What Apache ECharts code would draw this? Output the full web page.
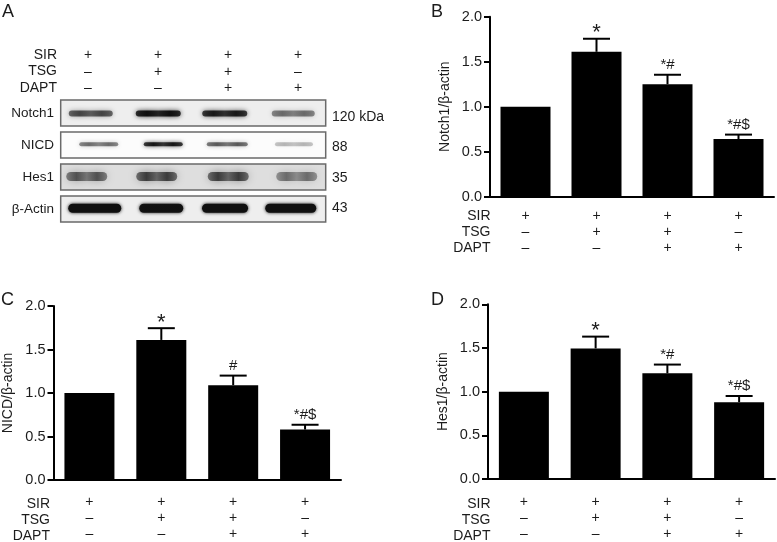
<!DOCTYPE html>
<html><head><meta charset="utf-8">
<style>html,body{margin:0;padding:0;background:#fff}#c{width:777px;height:542px;filter:blur(0.45px)}</style>
<script src="https://cdn.jsdelivr.net/npm/echarts@6/dist/echarts.min.js"></script>
</head><body><div id="c"></div>
<script>
// ---- data ----
const sir  = ['+','+','+','+'];
const tsg  = ['–','+','+','–'];
const dapt = ['–','–','+','+'];
const rowNames = ['SIR','TSG','DAPT'];
const yTicks = ['0.0','0.5','1.0','1.5','2.0'];

const notchMean = [1.0, 1.61, 1.25, 0.64];
const notchTop  = [null, 1.755, 1.355, 0.69];
const notchSig  = ['', '*', '*#', '*#$'];
const nicdMean  = [1.0, 1.61, 1.09, 0.58];
const nicdTop   = [null, 1.745, 1.2, 0.635];
const nicdSig   = ['', '*', '#', '*#$'];
const hesMean   = [1.0, 1.495, 1.21, 0.88];
const hesTop    = [null, 1.63, 1.31, 0.95];
const hesSig    = ['', '*', '*#', '*#$'];

const blotRows = ['Notch1','NICD','Hes1','β-Actin'];
const blotKda  = ['120 kDa','88','35','43'];
const notchBand = [0.68, 1, 0.92, 0.52];
const nicdBand  = [0.55, 0.95, 0.62, 0.28];
const hesBand   = [0.62, 0.72, 0.72, 0.5];
const actinBand = [1, 0.97, 1, 1];

// ---- styling ----
const FONT = '"Liberation Sans", Arial, sans-serif';
const INK = '#1c1c1c';
const AX = '#000';
const catNames = sir.map((s,i)=> s+'\n'+tsg[i]+'\n'+dapt[i]);
const kdaY = [117, 147, 178, 208];
const blotStyle = [
  {bands:notchBand, bg:'#eeeeee', h:6, blur:5, dy:0.5, dip:0.82, dx:[0,0,-1,0], w:[44,45,45,43]},
  {bands:nicdBand,  bg:'#fcfcfc', h:4, blur:4, dy:-0.7, dip:0.8, dx:[8,5,1.5,0.7], w:[39,39,41,38]},
  {bands:hesBand,   bg:'#dedede', h:9, blur:9, dy:-0.5, dip:0.7, dx:[-4,-1.5,2.5,3.5], w:[41,41,41,41]},
  {bands:actinBand, bg:'#eeeeee', h:9, blur:3.5, dy:-0.7, dip:1, dx:[4,3,-0.7,-2.5], w:[53,44,46,51]}
];

function blotFrames(params, api){
  const i = params.dataIndex, c = params.coordSys;
  const yc = api.coord([0, api.value(1)])[1];
  const h = api.size([0,1])[1] - 6;
  return {type:'rect', shape:{x:c.x+3.7, y:yc-h/2, width:c.width-5, height:h},
    style:{fill:blotStyle[i].bg, stroke:'#6a6a6a', lineWidth:1.5}};
}
function blotBands(params, api){
  const lane = api.value(0), row = api.value(1), dark = api.value(2);
  const s = blotStyle[row];
  const p = api.coord([lane,row]);
  const cx = p[0]+s.dx[lane], cy = p[1]+s.dy, w = s.w[lane], h = s.h;
  const a = Math.min(1, dark);
  const c1 = 'rgba(15,15,15,'+a+')';
  const c2 = 'rgba(15,15,15,'+(a*s.dip)+')';
  return {type:'rect', shape:{x:cx-w/2, y:cy-h/2, width:w, height:h, r:h/2},
    style:{fill:{type:'linear',x:0,y:0,x2:1,y2:0,colorStops:[
      {offset:0,color:c2},{offset:0.25,color:c1},{offset:0.5,color:c2},{offset:0.75,color:c1},{offset:1,color:c2}]},
      shadowBlur:s.blur, shadowColor:c2}};
}
function errorRender(sig){
  return function(params, api){
    const i = params.dataIndex;
    const x = api.value(0), m = api.value(1), t = api.value(2);
    const a = api.coord([x,m]), b = api.coord([x,isNaN(t)?m:t]);
    const kids = [];
    if(!isNaN(t)){
      kids.push({type:'line', shape:{x1:a[0],y1:a[1],x2:b[0],y2:b[1]}, style:{stroke:'#000',lineWidth:2}});
      kids.push({type:'line', shape:{x1:b[0]-13.5,y1:b[1],x2:b[0]+13.5,y2:b[1]}, style:{stroke:'#000',lineWidth:2}});
    }
    if(sig[i]){
      const single = sig[i]==='*';
      kids.push({type:'text', style:{text:sig[i], x:b[0], y:b[1]-(single?5.5:10), align:'center', verticalAlign:'middle',
        font:(single?'22px ':'15px ')+FONT, fill:INK}});
    }
    return {type:'group', children:kids};
  };
}
function panel(g, mean, top, sig){
  return [
    {type:'bar', xAxisIndex:g, yAxisIndex:g, data:mean, barWidth:50, itemStyle:{color:'#000'}, silent:true},
    {type:'custom', xAxisIndex:g, yAxisIndex:g, renderItem:errorRender(sig), clip:false, silent:true,
     encode:{x:0,y:[1,2]}, z:5, data:mean.map((m,i)=>[i,m,top[i]===null?'-':top[i]])}
  ];
}
function xAx(g, margin){
  return {type:'category', gridIndex:g, data:catNames,
    axisLine:{lineStyle:{color:AX,width:2}}, axisTick:{alignWithLabel:true,length:6,lineStyle:{color:AX,width:2}},
    axisLabel:{color:INK,fontFamily:FONT,fontSize:14,lineHeight:16,margin:margin,interval:0}};
}
function yAx(g, name){
  return {type:'value', gridIndex:g, min:0, max:2, interval:0.5, name:name, nameLocation:'middle', nameGap:38, nameRotate:90,
    nameTextStyle:{color:INK,fontFamily:FONT,fontSize:14},
    splitLine:{show:false}, axisLine:{show:true,lineStyle:{color:AX,width:2}}, axisTick:{show:true,length:6,lineStyle:{color:AX,width:2}},
    axisLabel:{color:INK,fontFamily:FONT,fontSize:14.5,margin:8,formatter:v=>yTicks[Math.round(v*2)]}};
}
function rowLabels(right, ys){
  return rowNames.map((t,i)=>({type:'text', x:right, y:ys[i],
    style:{text:t, align:'right', verticalAlign:'middle', font:'14px '+FONT, fill:INK}}));
}
function letter(t,x,y){
  return {type:'text', x:x, y:y, style:{text:t, font:'18px '+FONT, fill:INK, align:'left', verticalAlign:'top'}};
}

const option = {
  animation:false, backgroundColor:'#fff',
  grid:[
    {left:490,   top:16.7, width:284,   height:180},
    {left:53.5,  top:306,  width:287.5, height:176.3},
    {left:488,   top:304.3,width:287,   height:177},
    {left:57,    top:97,   width:270,   height:128},
    {left:53,    top:62,   width:280,   height:30}
  ],
  xAxis:[
    xAx(0,11), xAx(1,14), xAx(2,15),
    {type:'category', gridIndex:3, data:sir, show:false},
    {type:'category', gridIndex:4, data:catNames, position:'top', axisLine:{show:false}, axisTick:{show:false},
     axisLabel:{color:INK,fontFamily:FONT,fontSize:14,lineHeight:16.5,margin:-34.5,interval:0}}
  ],
  yAxis:[
    yAx(0,'Notch1/β-actin'), yAx(1,'NICD/β-actin'), yAx(2,'Hes1/β-actin'),
    {type:'category', gridIndex:3, data:blotRows, inverse:true, axisLine:{show:false}, axisTick:{show:false},
     axisLabel:{color:INK,fontFamily:FONT,fontSize:13.5,margin:3,interval:0}},
    {type:'value', gridIndex:4, show:false}
  ],
  series:[
    ...panel(0,notchMean,notchTop,notchSig),
    ...panel(1,nicdMean,nicdTop,nicdSig),
    ...panel(2,hesMean,hesTop,hesSig),
    {type:'custom', xAxisIndex:3, yAxisIndex:3, renderItem:blotFrames, silent:true, z:1,
     encode:{x:0,y:1}, data:blotRows.map((r,i)=>[0,i])},
    {type:'custom', xAxisIndex:3, yAxisIndex:3, renderItem:blotBands, silent:true, z:2,
     encode:{x:0,y:1}, data:blotStyle.flatMap((s,r)=>s.bands.map((d,l)=>[l,r,d]))}
  ],
  graphic:[
    letter('A',2,3), letter('B',431,3), letter('C',1,291), letter('D',431,291),
    ...rowLabels(57,[55,71.5,88]),
    ...rowLabels(490.5,[216,232,248]),
    ...rowLabels(50,[504,520,536]),
    ...rowLabels(490.5,[504,520,536]),
    ...blotKda.map((t,i)=>({type:'text', x:332, y:kdaY[i],
      style:{text:t, align:'left', verticalAlign:'middle', font:'14px '+FONT, fill:INK}}))
  ]
};
const chart = echarts.init(document.getElementById('c'),null,{renderer:'canvas'});
chart.setOption(option);
</script></body></html>
